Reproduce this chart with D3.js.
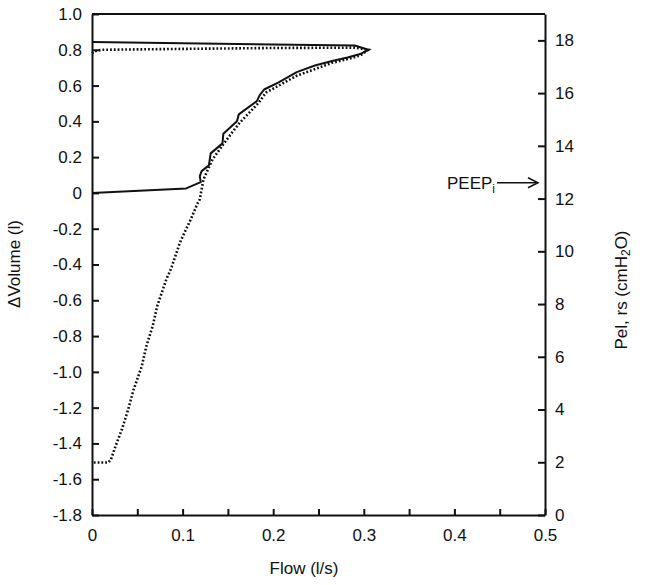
<!DOCTYPE html>
<html>
<head>
<meta charset="utf-8">
<script src="https://cdn.jsdelivr.net/npm/d3@7"></script>
<style>
body { margin: 0; background: #fff; }
text { font-family: "Liberation Sans", Arial, sans-serif; fill: #111; }
.axis path, .axis line { stroke: #111; stroke-width: 2; }
</style>
</head>
<body>
<svg id="chart" width="654" height="585"></svg>
<script>
// solid trace: flow (l/s) / volume (l)
var solidFlow   = [0, 0.104, 0.120, 0.119, 0.121, 0.129, 0.131, 0.144, 0.145, 0.160, 0.162, 0.182, 0.185, 0.190, 0.206, 0.226, 0.246, 0.265, 0.282, 0.296, 0.305, 0.29, 0.2, 0.1, 0];
var solidVolume = [0, 0.025, 0.060, 0.094, 0.122, 0.154, 0.221, 0.277, 0.331, 0.401, 0.439, 0.513, 0.545, 0.578, 0.618, 0.675, 0.712, 0.737, 0.757, 0.776, 0.800, 0.824, 0.830, 0.836, 0.843];

// dotted trace
var dottedFlow   = [0, 0.002, 0.01, 0.1, 0.2, 0.29, 0.305, 0.296, 0.282, 0.265, 0.226, 0.192, 0.184, 0.163, 0.146, 0.133, 0.123, 0.119, 0.116, 0.109, 0.102, 0.097, 0.092, 0.087, 0.082, 0.077, 0.072, 0.067, 0.060, 0.055, 0.046, 0.040, 0.033, 0.026, 0.021, 0.018, 0.002, 0];
var dottedVolume = [0.78, 0.79, 0.80, 0.805, 0.81, 0.812, 0.800, 0.768, 0.748, 0.727, 0.655, 0.561, 0.504, 0.392, 0.280, 0.187, 0.075, -0.036, -0.064, -0.148, -0.223, -0.278, -0.353, -0.427, -0.483, -0.558, -0.632, -0.744, -0.856, -0.968, -1.098, -1.209, -1.321, -1.415, -1.489, -1.507, -1.507, -1.507];

var volumeTicks = [1.0, 0.8, 0.6, 0.4, 0.2, 0, -0.2, -0.4, -0.6, -0.8, -1.0, -1.2, -1.4, -1.6, -1.8];
var volumeLabels = ["1.0", "0.8", "0.6", "0.4", "0.2", "0", "-0.2", "-0.4", "-0.6", "-0.8", "-1.0", "-1.2", "-1.4", "-1.6", "-1.8"];
var pressureTicks = [0, 2, 4, 6, 8, 10, 12, 14, 16, 18];
var flowTicks = [0, 0.05, 0.1, 0.15, 0.2, 0.25, 0.3, 0.35, 0.4, 0.45, 0.5];
var flowLabels = ["0", "", "0.1", "", "0.2", "", "0.3", "", "0.4", "", "0.5"];
var peepPressure = 12.6;

var svg = d3.select('#chart');
var mLeft = 92, mRight = 545, mTop = 14, mBottom = 515;

var x = d3.scaleLinear().domain([0, 0.5]).range([mLeft, mRight]);
var y = d3.scaleLinear().domain([-1.8, 1.0]).range([mBottom, mTop]);
var yR = d3.scaleLinear().domain([0, 19]).range([mBottom, mTop]);

// frame top
svg.append('line')
    .attr('x1', x(0)).attr('x2', x(0.5))
    .attr('y1', y(1.0)).attr('y2', y(1.0))
    .attr('stroke', '#111').attr('stroke-width', 2);

svg.append('g').attr('class', 'axis')
    .attr('transform', 'translate(' + mLeft + ',0)')
    .call(d3.axisLeft(y).tickValues(volumeTicks).tickSize(-7).tickSizeOuter(0).tickPadding(10)
        .tickFormat(function(d, i) { return volumeLabels[i]; }));

svg.append('g').attr('class', 'axis')
    .attr('transform', 'translate(' + mRight + ',0)')
    .call(d3.axisRight(yR).tickValues(pressureTicks).tickSize(-7).tickSizeOuter(0).tickPadding(10));

svg.append('g').attr('class', 'axis')
    .attr('transform', 'translate(0,' + mBottom + ')')
    .call(d3.axisBottom(x).tickValues(flowTicks).tickSize(-6).tickSizeOuter(0).tickPadding(14)
        .tickFormat(function(d, i) { return flowLabels[i]; }));

svg.selectAll('.axis text').style('font-size', '17px').attr('fill', '#111');

var lineLinear = d3.line()
    .x(function(d) { return x(d[0]); })
    .y(function(d) { return y(d[1]); });

var solidData = solidFlow.map(function(f, i) { return [f, solidVolume[i]]; });
var dottedData = dottedFlow.map(function(f, i) { return [f, dottedVolume[i]]; });

svg.append('path')
    .attr('d', lineLinear(dottedData))
    .attr('fill', 'none')
    .attr('stroke', '#111')
    .attr('stroke-width', 2.6)
    .attr('stroke-dasharray', '1.8,2');

svg.append('path')
    .attr('d', lineLinear(solidData))
    .attr('fill', 'none')
    .attr('stroke', '#111')
    .attr('stroke-width', 2)
    .attr('stroke-linejoin', 'round');

// titles
svg.append('text')
    .attr('transform', 'translate(20,264) rotate(-90)')
    .attr('text-anchor', 'middle')
    .style('font-size', '17px')
    .text('\u0394Volume (l)');

var rTitle = svg.append('text')
    .attr('transform', 'translate(627,290) rotate(-90)')
    .attr('text-anchor', 'middle')
    .style('font-size', '17px');
rTitle.append('tspan').text('Pel, rs (cmH');
rTitle.append('tspan').attr('baseline-shift', '-25%').style('font-size', '12px').text('2');
rTitle.append('tspan').text('O)');

svg.append('text')
    .attr('x', 304)
    .attr('y', 574)
    .attr('text-anchor', 'middle')
    .style('font-size', '17px')
    .text('Flow (l/s)');

// PEEPi marker
var peepY = yR(peepPressure);
var peep = svg.append('text')
    .attr('x', 447)
    .attr('y', peepY + 6)
    .style('font-size', '17px');
peep.append('tspan').text('PEEP');
peep.append('tspan').attr('baseline-shift', '-30%').style('font-size', '12px').text('i');

svg.append('line')
    .attr('x1', 497).attr('x2', 538)
    .attr('y1', peepY).attr('y2', peepY)
    .attr('stroke', '#111').attr('stroke-width', 1.5);
svg.append('path')
    .attr('d', 'M' + 528 + ',' + (peepY - 5) + 'L' + 538 + ',' + peepY + 'L' + 528 + ',' + (peepY + 5))
    .attr('fill', 'none').attr('stroke', '#111').attr('stroke-width', 1.5);
</script>
</body>
</html>
